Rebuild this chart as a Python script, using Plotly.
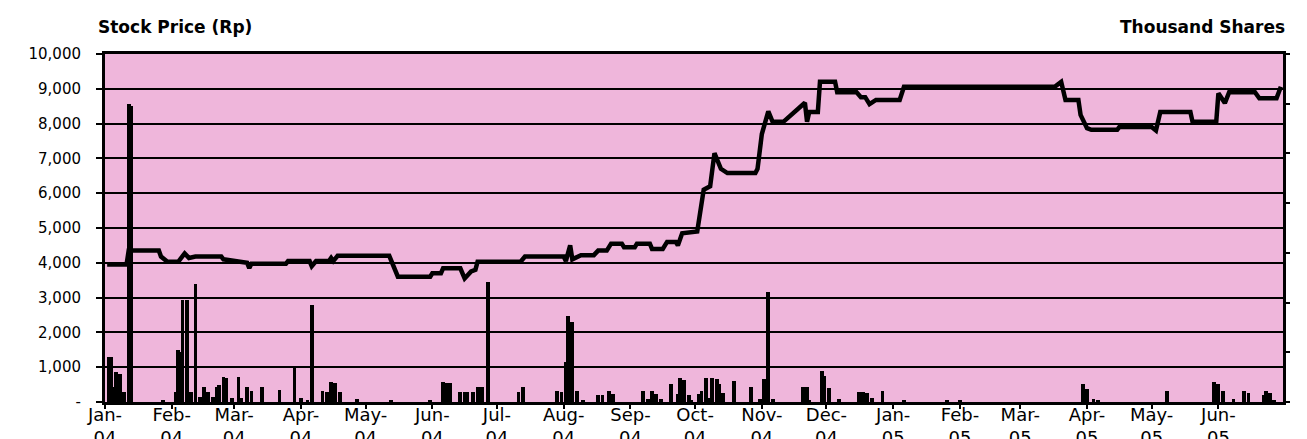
import plotly.graph_objects as go

# ---------------- data ----------------
price_dates = [
    "2004-01-02", "2004-01-11", "2004-01-12", "2004-01-26", "2004-01-27", "2004-01-30",
    "2004-02-04", "2004-02-07", "2004-02-09", "2004-02-12", "2004-02-24", "2004-02-25",
    "2004-03-07", "2004-03-08", "2004-03-09", "2004-03-25", "2004-03-26", "2004-04-05",
    "2004-04-06", "2004-04-08", "2004-04-14", "2004-04-15", "2004-04-16", "2004-04-18",
    "2004-05-12", "2004-05-16", "2004-05-31", "2004-06-01", "2004-06-05", "2004-06-06",
    "2004-06-14", "2004-06-16", "2004-06-19", "2004-06-21", "2004-06-22", "2004-07-12",
    "2004-07-14", "2004-08-01", "2004-08-02", "2004-08-04", "2004-08-05", "2004-08-09",
    "2004-08-15", "2004-08-17", "2004-08-21", "2004-08-23", "2004-08-28", "2004-08-29",
    "2004-09-03", "2004-09-04", "2004-09-10", "2004-09-11", "2004-09-16", "2004-09-18",
    "2004-09-22", "2004-09-23", "2004-09-25", "2004-10-02",
    "2004-10-05", "2004-10-08", "2004-10-10", "2004-10-13", "2004-10-16", "2004-10-29",
    "2004-10-30", "2004-11-01", "2004-11-04", "2004-11-06", "2004-11-11", "2004-11-21",
    "2004-11-22", "2004-11-23", "2004-11-27", "2004-11-28", "2004-12-05", "2004-12-06",
    "2004-12-15", "2004-12-17", "2004-12-19", "2004-12-21", "2004-12-24", "2005-01-04",
    "2005-01-06", "2005-03-17", "2005-03-20", "2005-03-22", "2005-03-28", "2005-03-29",
    "2005-04-01", "2005-04-03", "2005-04-15", "2005-04-16", "2005-05-01", "2005-05-03",
    "2005-05-05", "2005-05-19", "2005-05-20", "2005-05-31", "2005-06-01", "2005-06-04",
    "2005-06-06", "2005-06-18", "2005-06-20", "2005-06-28", "2005-06-30",
]
price_values = [
    3950, 3950, 4350, 4350, 4180, 4030,
    4030, 4270, 4140, 4180, 4180, 4100,
    4000, 3850, 3970, 3970, 4050, 4050,
    3900, 4050, 4050, 4140, 4050, 4200,
    4200, 3600, 3600, 3700, 3700, 3840,
    3840, 3550, 3750, 3800, 4030, 4030,
    4180, 4180, 4050, 4500, 4100, 4220,
    4220, 4350, 4350, 4550, 4550, 4450,
    4450, 4550, 4550, 4400, 4400, 4600,
    4600, 4500, 4850, 4900,
    6100, 6200, 7150, 6700, 6580, 6580,
    6700, 7700, 8350, 8050, 8050, 8600,
    8050, 8330, 8330, 9200, 9200, 8900,
    8900, 8760, 8760, 8560, 8680, 8680,
    9060, 9060, 9200, 8680, 8680, 8250,
    7870, 7820, 7820, 7900, 7900, 7800,
    8330, 8330, 8050, 8050, 8870, 8590,
    8900, 8900, 8730, 8730, 9060,
]

volume_dates = [
    "2004-01-03", "2004-01-04", "2004-01-05", "2004-01-06", "2004-01-08", "2004-01-09",
    "2004-01-10", "2004-01-12", "2004-01-13", "2004-01-28", "2004-02-03", "2004-02-04",
    "2004-02-05", "2004-02-06", "2004-02-08", "2004-02-10", "2004-02-12", "2004-02-14",
    "2004-02-16", "2004-02-18", "2004-02-20", "2004-02-22", "2004-02-23", "2004-02-25",
    "2004-02-26", "2004-02-29", "2004-03-03", "2004-03-04", "2004-03-07", "2004-03-09",
    "2004-03-14", "2004-03-22", "2004-03-29", "2004-04-01", "2004-04-04", "2004-04-06",
    "2004-04-11", "2004-04-13", "2004-04-15", "2004-04-17", "2004-04-19", "2004-04-27",
    "2004-05-13", "2004-05-31", "2004-06-06", "2004-06-08", "2004-06-09", "2004-06-14",
    "2004-06-16", "2004-06-17", "2004-06-20", "2004-06-22", "2004-06-24", "2004-06-27",
    "2004-07-11", "2004-07-13", "2004-07-29", "2004-07-31", "2004-08-02", "2004-08-03",
    "2004-08-05", "2004-08-07", "2004-08-10", "2004-08-17", "2004-08-19", "2004-08-22",
    "2004-08-24", "2004-09-07", "2004-09-09", "2004-09-11", "2004-09-13", "2004-09-15",
    "2004-09-20", "2004-09-23", "2004-09-24", "2004-09-26", "2004-09-28", "2004-09-29",
    "2004-10-03", "2004-10-04", "2004-10-06", "2004-10-08", "2004-10-09", "2004-10-11",
    "2004-10-12", "2004-10-14", "2004-10-19", "2004-10-27", "2004-10-31", "2004-11-02",
    "2004-11-03", "2004-11-04", "2004-11-06", "2004-11-20", "2004-11-22", "2004-11-23",
    "2004-11-29", "2004-11-30", "2004-12-02", "2004-12-07", "2004-12-16", "2004-12-18",
    "2004-12-20", "2004-12-22", "2004-12-27", "2005-01-06", "2005-01-26", "2005-02-01",
    "2005-03-30", "2005-04-01", "2005-04-04", "2005-04-06", "2005-05-08", "2005-05-30",
    "2005-06-01", "2005-06-03", "2005-06-08", "2005-06-13", "2005-06-15", "2005-06-22",
    "2005-06-23", "2005-06-25", "2005-06-27",
]
volume_values = [
    1820, 1820, 590, 1220, 1120, 420,
    390, 11970, 11900, 70, 420, 2100,
    2030, 4100, 4100, 420, 4750, 210,
    600, 420, 210, 600, 700, 1020,
    980, 180, 1020, 180, 600, 450,
    590, 490, 1400, 170, 80, 3920,
    460, 420, 810, 780, 420, 140,
    70, 70, 810, 780, 780, 420,
    420, 420, 420, 600, 600, 4830,
    420, 600, 460, 420, 1610, 3440,
    3220, 460, 70, 280, 280, 460,
    320, 460, 140, 460, 320, 140,
    730, 320, 980, 870, 280, 70,
    320, 460, 980, 170, 980, 910,
    730, 350, 840, 600, 140, 910,
    840, 4410, 140, 600, 600, 70,
    1260, 1050, 560, 110, 420, 420,
    350, 180, 460, 70, 70, 70,
    730, 520, 140, 70, 460, 810,
    730, 460, 140, 460, 350, 280,
    460, 350, 70,
]

month_ticks = [
    "2004-01-01", "2004-02-01", "2004-03-01", "2004-04-01", "2004-05-01", "2004-06-01",
    "2004-07-01", "2004-08-01", "2004-09-01", "2004-10-01", "2004-11-01", "2004-12-01",
    "2005-01-01", "2005-02-01", "2005-03-01", "2005-04-01", "2005-05-01", "2005-06-01",
]
month_labels = [
    "Jan-<br>04", "Feb-<br>04", "Mar-<br>04", "Apr-<br>04", "May-<br>04", "Jun-<br>04",
    "Jul-<br>04", "Aug-<br>04", "Sep-<br>04", "Oct-<br>04", "Nov-<br>04", "Dec-<br>04",
    "Jan-<br>05", "Feb-<br>05", "Mar-<br>05", "Apr-<br>05", "May-<br>05", "Jun-<br>05",
]
price_ticks = [0, 1000, 2000, 3000, 4000, 5000, 6000, 7000, 8000, 9000, 10000]
price_tick_labels = ["-", "1,000", "2,000", "3,000", "4,000", "5,000",
                     "6,000", "7,000", "8,000", "9,000", "10,000"]
volume_ticks = [0, 2000, 4000, 6000, 8000, 10000, 12000, 14000]
volume_tick_labels = ["-", "2,000", "4,000", "6,000", "8,000", "10,000", "12,000", "14,000"]

# ---------------- figure ----------------
FONT = "DejaVu Sans"

fig = go.Figure()
fig.add_trace(go.Scatter(
    x=price_dates, y=price_values, mode="lines",
    line=dict(color="black", width=4.5), yaxis="y", showlegend=False,
))
fig.add_trace(go.Bar(
    x=volume_dates, y=volume_values, yaxis="y2",
    marker=dict(color="black", line=dict(width=0)),
    width=1.8 * 86400000, showlegend=False,
))

# page body has an 8px margin: figure sized to fill the rest of the window
fig.update_layout(
    width=1299, height=431,
    margin=dict(l=97, r=24, t=46, b=37),
    paper_bgcolor="white",
    plot_bgcolor="#EFB6DB",
    font=dict(family=FONT, color="black"),
    bargap=0,
    xaxis=dict(
        type="date",
        range=["2004-01-01", "2005-07-01"],
        tickvals=month_ticks, ticktext=month_labels,
        tickfont=dict(family=FONT, size=18),
        ticks="outside", ticklen=4, tickwidth=2, tickcolor="black",
        ticklabelstandoff=-10,
        showgrid=False, zeroline=False,
        showline=True, linecolor="black", linewidth=3, mirror=True,
        automargin=False,
    ),
    yaxis=dict(
        range=[0, 10000],
        tickvals=price_ticks, ticktext=price_tick_labels,
        tickfont=dict(family=FONT, size=15),
        ticks="outside", ticklen=6, tickwidth=2, tickcolor="black",
        ticklabelstandoff=12,
        showgrid=True, gridcolor="black", gridwidth=2,
        zeroline=False,
        showline=True, linecolor="black", linewidth=3,
        automargin=False,
    ),
    yaxis2=dict(
        overlaying="y", side="right",
        range=[0, 14000],
        tickvals=volume_ticks, ticktext=volume_tick_labels,
        tickfont=dict(family=FONT, size=15),
        ticks="outside", ticklen=4, tickwidth=2, tickcolor="black",
        ticklabelstandoff=11,
        showgrid=False, zeroline=False,
        showline=True, linecolor="black", linewidth=3,
        automargin=False,
    ),
    annotations=[
        dict(text="<b>Stock Price (Rp)</b>", xref="paper", yref="paper",
             x=0, y=1, xanchor="left", yanchor="middle", xshift=-9, yshift=27,
             showarrow=False, font=dict(family=FONT, size=17, color="black")),
        dict(text="<b>Thousand Shares</b>", xref="paper", yref="paper",
             x=1, y=1, xanchor="right", yanchor="middle", xshift=4, yshift=27,
             showarrow=False, font=dict(family=FONT, size=17, color="black")),
    ],
)

fig.write_html("out.html")
